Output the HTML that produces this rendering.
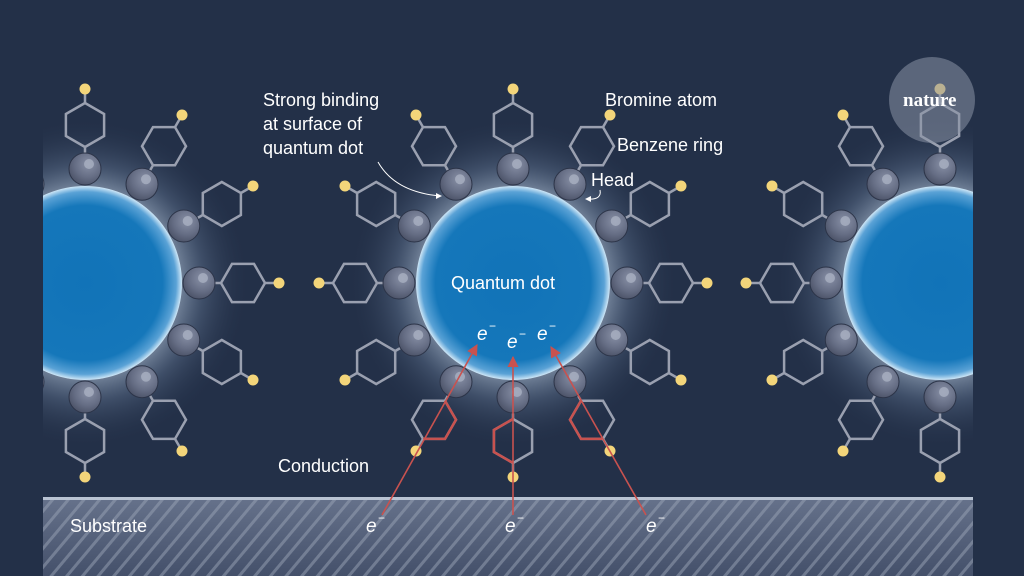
<!DOCTYPE html>
<html><head><meta charset="utf-8"><style>
html,body{margin:0;padding:0;background:#233048;}
svg{display:block}
text{font-family:"Liberation Sans",sans-serif;fill:#fff}
</style></head><body>
<svg id="s" width="1024" height="576" viewBox="0 0 1024 576" xmlns="http://www.w3.org/2000/svg">
<defs>
<radialGradient id="glow" cx="0.5" cy="0.5" r="0.5">
<stop offset="0.55" stop-color="#c9dbef" stop-opacity="0.55"/>
<stop offset="0.72" stop-color="#7f95b3" stop-opacity="0.3"/>
<stop offset="1" stop-color="#233048" stop-opacity="0"/>
</radialGradient>
<radialGradient id="dot" cx="0.5" cy="0.5" r="0.5">
<stop offset="0" stop-color="#1173b8"/>
<stop offset="0.8" stop-color="#1577ba"/>
<stop offset="0.94" stop-color="#5aa2d6"/>
<stop offset="1" stop-color="#cfe7f7"/>
</radialGradient>
<radialGradient id="ball" cx="0.6" cy="0.35" r="0.7">
<stop offset="0" stop-color="#8890a6"/>
<stop offset="0.6" stop-color="#656d84"/>
<stop offset="1" stop-color="#4a5166"/>
</radialGradient>
<linearGradient id="sub" x1="0" y1="0" x2="0" y2="1">
<stop offset="0" stop-color="#65718a"/>
<stop offset="1" stop-color="#44506a"/>
</linearGradient>
<pattern id="hatch" width="12" height="12" patternUnits="userSpaceOnUse" patternTransform="rotate(40)">
<rect x="0" y="0" width="3" height="12" fill="#9aa3b6" opacity="0.5"/>
</pattern>
<clipPath id="cl"><rect x="43" y="0" width="930" height="576"/></clipPath>
<marker id="ah" viewBox="0 0 10 10" refX="9" refY="5" markerWidth="7" markerHeight="7" orient="auto-start-reverse"><path d="M0,0 L10,5 L0,10 z" fill="#c8524f"/></marker>
</defs>
<g id="mol" clip-path="url(#cl)"></g>
<rect x="43" y="500" width="930" height="76" fill="url(#sub)"/>
<rect x="43" y="500" width="930" height="76" fill="url(#hatch)"/>
<rect x="43" y="497" width="930" height="3" fill="#b9c3d3"/>
<text x="70" y="532" font-size="18">Substrate</text>
<text x="278" y="472" font-size="18">Conduction</text>
<text x="263" y="106" font-size="18">Strong binding</text>
<text x="263" y="130" font-size="18">at surface of</text>
<text x="263" y="154" font-size="18">quantum dot</text>
<text x="605" y="106" font-size="18">Bromine atom</text>
<text x="617" y="151" font-size="18">Benzene ring</text>
<text x="591" y="186" font-size="18">Head</text>
<text x="451" y="289" font-size="18">Quantum dot</text>
<path d="M378,162 Q395,192 440,196" stroke="#fff" stroke-width="1" fill="none"/>
<path d="M436,193 L442,196 L436,199z" fill="#fff"/>
<path d="M600,190 Q602,200 588,199" stroke="#fff" stroke-width="1" fill="none"/>
<path d="M591,196 L585,199 L591,202z" fill="#fff"/>
<g stroke="#c8524f" stroke-width="1.6" fill="none">
<line x1="382" y1="515" x2="477" y2="345" marker-end="url(#ah)"/>
<line x1="513" y1="515" x2="513" y2="357" marker-end="url(#ah)"/>
<line x1="646" y1="515" x2="551" y2="347" marker-end="url(#ah)"/>
</g>
<g font-size="19" font-style="italic">
<text x="477" y="340">e</text><text x="489" y="330" font-size="12" font-style="normal">−</text>
<text x="507" y="348">e</text><text x="519" y="338" font-size="12" font-style="normal">−</text>
<text x="537" y="340">e</text><text x="549" y="330" font-size="12" font-style="normal">−</text>
<text x="366" y="532">e</text><text x="378" y="522" font-size="12" font-style="normal">−</text>
<text x="505" y="532">e</text><text x="517" y="522" font-size="12" font-style="normal">−</text>
<text x="646" y="532">e</text><text x="658" y="522" font-size="12" font-style="normal">−</text>
</g>
<circle cx="932" cy="100" r="43" fill="#8a93a6" opacity="0.55"/>
<text x="903" y="106" font-size="19" style="font-family:'Liberation Serif',serif;font-weight:bold" fill="#34405a">nature</text>
</svg>
<script>
var g=document.getElementById('mol'),h='';
var cs=[85,513,940],cy=283;
cs.forEach(function(cx){h+='<circle cx="'+cx+'" cy="'+cy+'" r="165" fill="url(#glow)"/>';});
cs.forEach(function(cx){
 h+='<circle cx="'+cx+'" cy="'+cy+'" r="97" fill="url(#dot)"/>';
 for(var k=0;k<12;k++){
  var a=k*Math.PI/6,dx=Math.cos(a),dy=Math.sin(a);
  var hx=cx+dx*114,hy=cy+dy*114,rx=cx+dx*158,ry=cy+dy*158,R=22;
  var V=function(j){var b=a+j*Math.PI/3;return (rx+Math.cos(b)*R).toFixed(1)+','+(ry+Math.sin(b)*R).toFixed(1);};
  var p=[];for(var j=0;j<6;j++)p.push(V(j));
  h+='<line x1="'+hx+'" y1="'+hy+'" x2="'+(rx-dx*R)+'" y2="'+(ry-dy*R)+'" stroke="#9aa0b0" stroke-width="2.5"/>';
  h+='<polygon points="'+p.join(' ')+'" fill="none" stroke="#9aa0b0" stroke-width="2.5"/>';
  if(cx==513&&(k==2||k==3||k==4)){
   var js=(k==4)?[0,-1,-2,-3]:[0,1,2,3];
   h+='<polyline points="'+js.map(V).join(' ')+'" fill="none" stroke="#c8524f" stroke-width="2.5"/>';
  }
  h+='<line x1="'+(rx+dx*R)+'" y1="'+(ry+dy*R)+'" x2="'+(cx+dx*192)+'" y2="'+(cy+dy*192)+'" stroke="#9aa0b0" stroke-width="2.5"/>';
  h+='<circle cx="'+(cx+dx*194)+'" cy="'+(cy+dy*194)+'" r="5.5" fill="#f3d57a"/>';
  h+='<circle cx="'+hx+'" cy="'+hy+'" r="16" fill="url(#ball)" stroke="#2c3448" stroke-width="1"/>';
  h+='<circle cx="'+(hx+4)+'" cy="'+(hy-5)+'" r="5" fill="#a9b0c2" opacity="0.8"/>';
 }
});
g.innerHTML=h;
</script>
</body></html>
